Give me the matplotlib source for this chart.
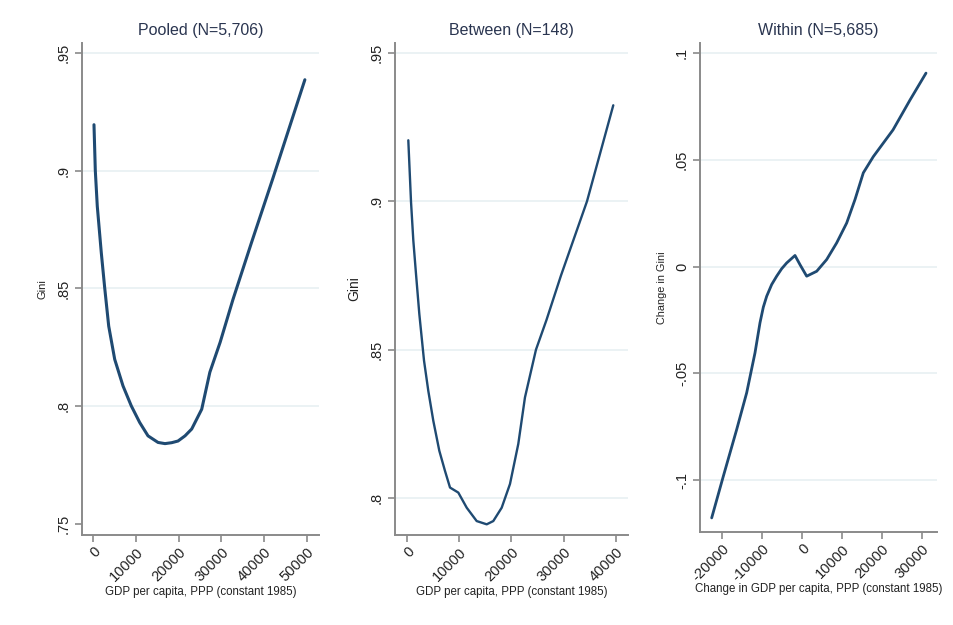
import matplotlib
matplotlib.use("Agg")
import matplotlib.pyplot as plt
from matplotlib.ticker import FixedLocator, FixedFormatter

plt.rcParams['font.family'] = ['Liberation Sans', 'DejaVu Sans']

# ---------------- data ----------------
pooled_x = [230, 540, 1000, 1940, 2730, 3670, 5070, 7010, 8950, 10900, 12850, 15190,
            16820, 18400, 19860, 21500, 23060, 25400, 27300, 29700, 32700, 37000,
            42000, 49500]
pooled_y = [.9195, .9000, .8849, .8651, .8503, .8340, .8199, .8086, .8001, .7931,
            .7874, .7846, .7841, .7845, .7852, .7874, .7903, .7987, .8144, .8271,
            .8453, .8693, .8966, .9386]

between_x = [250, 770, 1210, 1720, 2360, 3260, 4080, 5040, 6190, 7280, 8240, 9830,
             11440, 13350, 15270, 16530, 18140, 19730, 21320, 22600, 24710, 26720,
             29500, 34480, 39520]
between_y = [.9206, .8998, .8868, .8756, .8620, .8463, .8361, .8260, .8159, .8091,
             .8035, .8018, .7967, .7922, .7911, .7922, .7967, .8047, .8182, .8339,
             .8500, .8600, .8750, .9000, .9324]

within_x = [-22580, -19670, -16330, -13830, -11750, -10500, -9670, -8830, -7580,
            -6330, -5080, -3830, -1750, -500, 1170, 3670, 6170, 8670, 11170, 13250,
            15330, 17830, 22750, 27000, 31000]
within_y = [-.1177, -.0982, -.0763, -.0591, -.0404, -.0263, -.0190, -.0139, -.0084,
            -.0045, -.0010, .0017, .0052, .0009, -.0045, -.0022, .0033, .0111, .0204,
            .0314, .0439, .0515, .0640, .0780, .0906]

titles = ["Pooled (N=5,706)", "Between (N=148)", "Within (N=5,685)"]
xlabels = ["GDP per capita, PPP (constant 1985)",
           "GDP per capita, PPP (constant 1985)",
           "Change in GDP per capita, PPP (constant 1985)"]
ylabels = ["Gini", "Gini", "Change in Gini"]

pooled_yticks = [.75, .8, .85, .9, .95]
pooled_ytick_labels = [".75", ".8", ".85", ".9", ".95"]
pooled_xticks = [0, 10000, 20000, 30000, 40000, 50000]

between_yticks = [.8, .85, .9, .95]
between_ytick_labels = [".8", ".85", ".9", ".95"]
between_xticks = [0, 10000, 20000, 30000, 40000]

within_yticks = [-.1, -.05, 0, .05, .1]
within_ytick_labels = ["-.1", "-.05", "0", ".05", ".1"]
within_xticks = [-20000, -10000, 0, 10000, 20000, 30000]

# ---------------- styling ----------------
W, H = 954, 625
fig = plt.figure(figsize=(W / 100, H / 100), dpi=100)
fig.patch.set_facecolor('white')

LINE = '#1f4a72'
SPINE = '#8a8a8a'
GRID = '#e8f0f2'
TXT = '#222222'
TITLE = '#2a3550'


def px_axes(l, t, r, b):
    return [l / W, 1 - b / H, (r - l) / W, (b - t) / H]


panels = [
    dict(rect=px_axes(82, 43, 319, 535), x=pooled_x, y=pooled_y,
         xlim=(-2570, 52800), ylim=(.7453, .9542), yt=pooled_yticks,
         ytl=pooled_ytick_labels, xt=pooled_xticks, lw=2.2,
         ylfs=8, ylx=-0.165, nogrid=[.75]),
    dict(rect=px_axes(395, 43, 628, 535), x=between_x, y=between_y,
         xlim=(-2300, 42340), ylim=(.7875, .9534), yt=between_yticks,
         ytl=between_ytick_labels, xt=between_xticks, lw=1.7,
         ylfs=10, ylx=-0.176, nogrid=[]),
    dict(rect=px_axes(700, 43, 937, 532), x=within_x, y=within_y,
         xlim=(-25500, 33750), ylim=(-.1243, .1047), yt=within_yticks,
         ytl=within_ytick_labels, xt=within_xticks, lw=2.0,
         ylfs=7.8, ylx=-0.160, nogrid=[]),
]

for i, p in enumerate(panels):
    ax = fig.add_axes(p['rect'])
    ax.set_facecolor('white')
    for yv in p['yt']:
        if yv in p['nogrid']:
            continue
        ax.axhline(yv, color=GRID, lw=1.2, zorder=0)
    ax.plot(p['x'], p['y'], color=LINE, lw=p['lw'], solid_joinstyle='round',
            solid_capstyle='round', zorder=3)
    ax.set_xlim(*p['xlim'])
    ax.set_ylim(*p['ylim'])
    for s in ['top', 'right']:
        ax.spines[s].set_visible(False)
    for s in ['left', 'bottom']:
        ax.spines[s].set_color(SPINE)
        ax.spines[s].set_linewidth(1.4)
    ax.yaxis.set_major_locator(FixedLocator(p['yt']))
    ax.yaxis.set_major_formatter(FixedFormatter(p['ytl']))
    ax.set_xticks(p['xt'])
    ax.set_xticklabels([str(v) for v in p['xt']], rotation=45, ha='right',
                       va='top', rotation_mode='anchor')
    ax.tick_params(axis='both', direction='out', length=5, width=1.2,
                   color=SPINE, labelcolor=TXT, labelsize=10.5)
    ax.tick_params(axis='y', pad=8)
    ax.tick_params(axis='x', pad=2)
    for lab in ax.get_yticklabels():
        lab.set_rotation(90)
        lab.set_va('center')
        lab.set_ha('center')
    ax.set_title(titles[i], fontsize=11.5, color=TITLE, pad=6)
    ax.set_xlabel(xlabels[i], fontsize=8.3, color=TXT)
    ax.xaxis.set_label_coords(0.5, -0.116)
    ax.xaxis.label.set_va('center')
    ax.set_ylabel(ylabels[i], fontsize=p['ylfs'], color=TXT)
    ax.yaxis.set_label_coords(p['ylx'], 0.5)
    ax.yaxis.label.set_va('center')

fig.savefig('out.png', dpi=100, facecolor='white')
